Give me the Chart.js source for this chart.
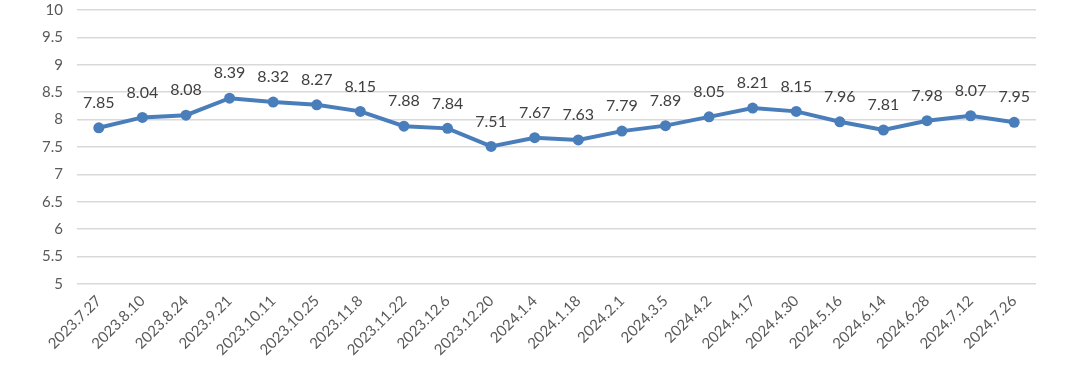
<!DOCTYPE html>
<html>
<head>
<meta charset="utf-8">
<script src="https://cdn.jsdelivr.net/npm/chart.js@4"></script>
<style>
  html, body { margin: 0; padding: 0; background: #fff; }
  #wrap { width: 1080px; height: 370px; }
</style>
</head>
<body>
<div id="wrap"><canvas id="chartCanvas" width="1080" height="370"></canvas></div>
<script>
var dateLabels = ['2023.7.27', '2023.8.10', '2023.8.24', '2023.9.21', '2023.10.11', '2023.10.25',
    '2023.11.8', '2023.11.22', '2023.12.6', '2023.12.20', '2024.1.4', '2024.1.18', '2024.2.1',
    '2024.3.5', '2024.4.2', '2024.4.17', '2024.4.30', '2024.5.16', '2024.6.14', '2024.6.28',
    '2024.7.12', '2024.7.26'];
var values = [7.85, 8.04, 8.08, 8.39, 8.32, 8.27, 8.15, 7.88, 7.84, 7.51, 7.67, 7.63, 7.79,
    7.89, 8.05, 8.21, 8.15, 7.96, 7.81, 7.98, 8.07, 7.95];
var yMin = 5;
var yMax = 10;
var yStep = 0.5;

var textGray = '#595959';
var lineBlue = '#4a7ebb';

/* write the value above every point */
var valueLabels = {
    id: 'valueLabels',
    afterDatasetsDraw: function(chart) {
        var ctx = chart.ctx;
        var meta = chart.getDatasetMeta(0);
        ctx.save();
        ctx.font = '16px Lato, "Open Sans", sans-serif';
        ctx.fillStyle = '#404040';
        ctx.textAlign = 'center';
        ctx.textBaseline = 'middle';
        meta.data.forEach(function(pt, i) {
            ctx.fillText(values[i].toFixed(2), pt.x, pt.y - 25);
        });
        ctx.restore();
    }
};

var ctx = document.getElementById('chartCanvas').getContext('2d');
var chart = new Chart(ctx, {
    type: 'line',
    data: {
        labels: dateLabels,
        datasets: [{
            data: values,
            borderColor: lineBlue,
            backgroundColor: lineBlue,
            borderWidth: 4,
            pointRadius: 5.5,
            pointBorderWidth: 0,
            tension: 0,
            fill: false
        }]
    },
    options: {
        responsive: false,
        animation: false,
        layout: { padding: { left: 0, right: 44, top: 10, bottom: 0 } },
        plugins: {
            legend: { display: false },
            tooltip: { enabled: false }
        },
        scales: {
            x: {
                offset: true,
                afterFit: function(scale) { scale.height = 86; scale.paddingTop = 0; },
                grid: { display: false, drawTicks: false },
                border: { display: false },
                ticks: {
                    color: textGray,
                    font: { size: 15, family: 'Lato, "Open Sans", sans-serif' },
                    minRotation: 45,
                    maxRotation: 45,
                    autoSkip: false,
                    padding: 8
                }
            },
            y: {
                min: yMin,
                max: yMax,
                afterFit: function(scale) { scale.width = 77; scale.paddingTop = 0; scale.paddingBottom = 0; },
                grid: { color: '#d9d9d9', lineWidth: 1.5, drawTicks: false },
                border: { display: false },
                ticks: {
                    stepSize: yStep,
                    color: textGray,
                    font: { size: 15, family: 'Lato, "Open Sans", sans-serif' },
                    padding: 14,
                    callback: function(v) { return String(Math.round(v * 10) / 10); }
                }
            }
        }
    },
    plugins: [valueLabels]
});
</script>
</body>
</html>
